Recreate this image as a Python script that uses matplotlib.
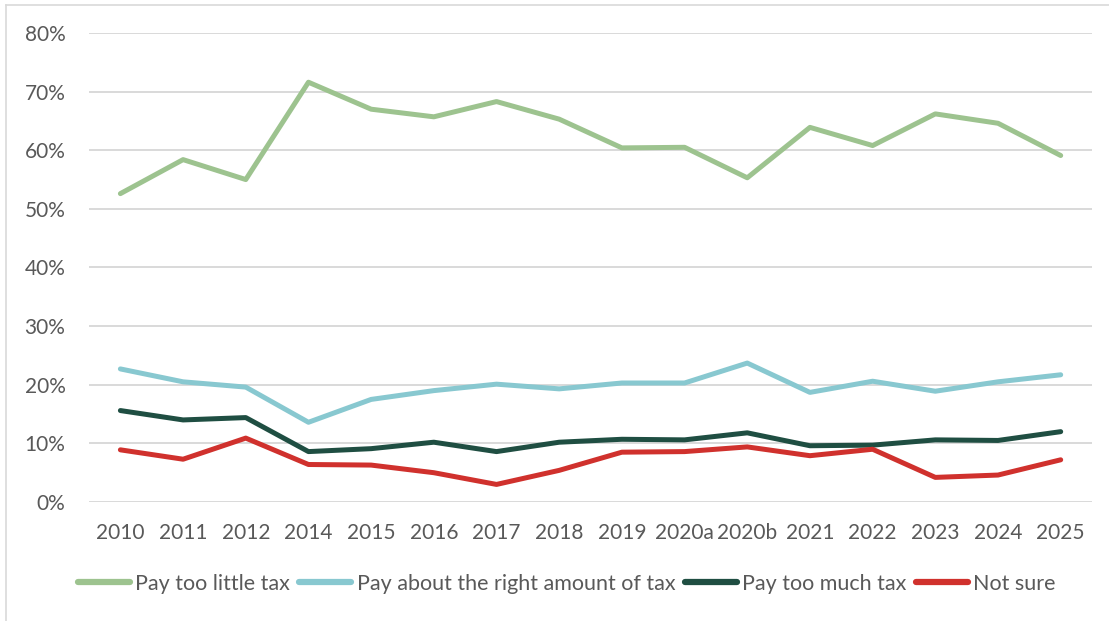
import matplotlib
matplotlib.use("Agg")
import matplotlib.pyplot as plt
from matplotlib.lines import Line2D
from matplotlib.ticker import PercentFormatter

# ── Data ─────────────────────────────────────────────────────────────────────
years = ["2010", "2011", "2012", "2014", "2015", "2016", "2017", "2018",
         "2019", "2020a", "2020b", "2021", "2022", "2023", "2024", "2025"]

too_little = [52.6, 58.4, 55.0, 71.6, 67.0, 65.7, 68.3, 65.3,
              60.4, 60.5, 55.3, 63.9, 60.8, 66.2, 64.6, 59.1]
about_right = [22.7, 20.5, 19.6, 13.6, 17.5, 19.0, 20.1, 19.3,
               20.3, 20.3, 23.7, 18.7, 20.6, 18.9, 20.5, 21.7]
too_much = [15.6, 14.0, 14.4, 8.6, 9.1, 10.2, 8.6, 10.2,
            10.7, 10.6, 11.8, 9.6, 9.7, 10.6, 10.5, 12.0]
not_sure = [8.9, 7.3, 10.9, 6.4, 6.3, 5.0, 3.0, 5.4,
            8.5, 8.6, 9.4, 7.9, 9.0, 4.2, 4.6, 7.2]

series = [
    ("Pay too little tax", too_little, "#9DC38F"),
    ("Pay about the right amount of tax", about_right, "#88C8D0"),
    ("Pay too much tax", too_much, "#1F4E42"),
    ("Not sure", not_sure, "#D0312D"),
]

plt.rcParams["font.family"] = ["Lato", "DejaVu Sans"]
TEXT = "#595959"

# ── Plot ─────────────────────────────────────────────────────────────────────
fig = plt.figure(figsize=(11.09, 6.21), dpi=100)
ax = fig.add_axes([0.0803, 0.1916, 0.9044, 0.7553])

x = range(len(years))
for label, vals, col in series:
    ax.plot(x, vals, color=col, linewidth=3.6, solid_capstyle="round",
            solid_joinstyle="round", label=label, zorder=3)

ax.set_xlim(-0.5, len(years) - 0.5)
ax.set_ylim(0, 80)
ax.set_yticks(range(0, 81, 10))
ax.yaxis.set_major_formatter(PercentFormatter(decimals=0))
ax.set_xticks(list(x))
ax.set_xticklabels(years)

ax.grid(axis="y", color="#D9D9D9", linewidth=1.4, zorder=0)
ax.set_axisbelow(True)
for s in ax.spines.values():
    s.set_visible(False)
ax.tick_params(axis="both", length=0, labelsize=15, colors=TEXT)
ax.tick_params(axis="y", pad=17)
ax.tick_params(axis="x", pad=15)

handles = [Line2D([], [], color=c, linewidth=4.5, solid_capstyle="round")
           for _, _, c in series]
fig.legend(handles, [s[0] for s in series], loc="center",
           bbox_to_anchor=(0.511, 0.06), ncol=4, frameon=False,
           fontsize=15.5, labelcolor=TEXT, handlelength=2.4,
           handletextpad=0.25, columnspacing=0.45)

# partial frame around the chart (left and top edges)
fig.add_artist(Line2D([0.0055, 0.0055], [0.0, 0.992], transform=fig.transFigure,
                      color="#D9D9D9", linewidth=1.2))
fig.add_artist(Line2D([0.0055, 1.0], [0.992, 0.992], transform=fig.transFigure,
                      color="#D9D9D9", linewidth=1.2))

fig.savefig("out.png", dpi=100, facecolor="white")
